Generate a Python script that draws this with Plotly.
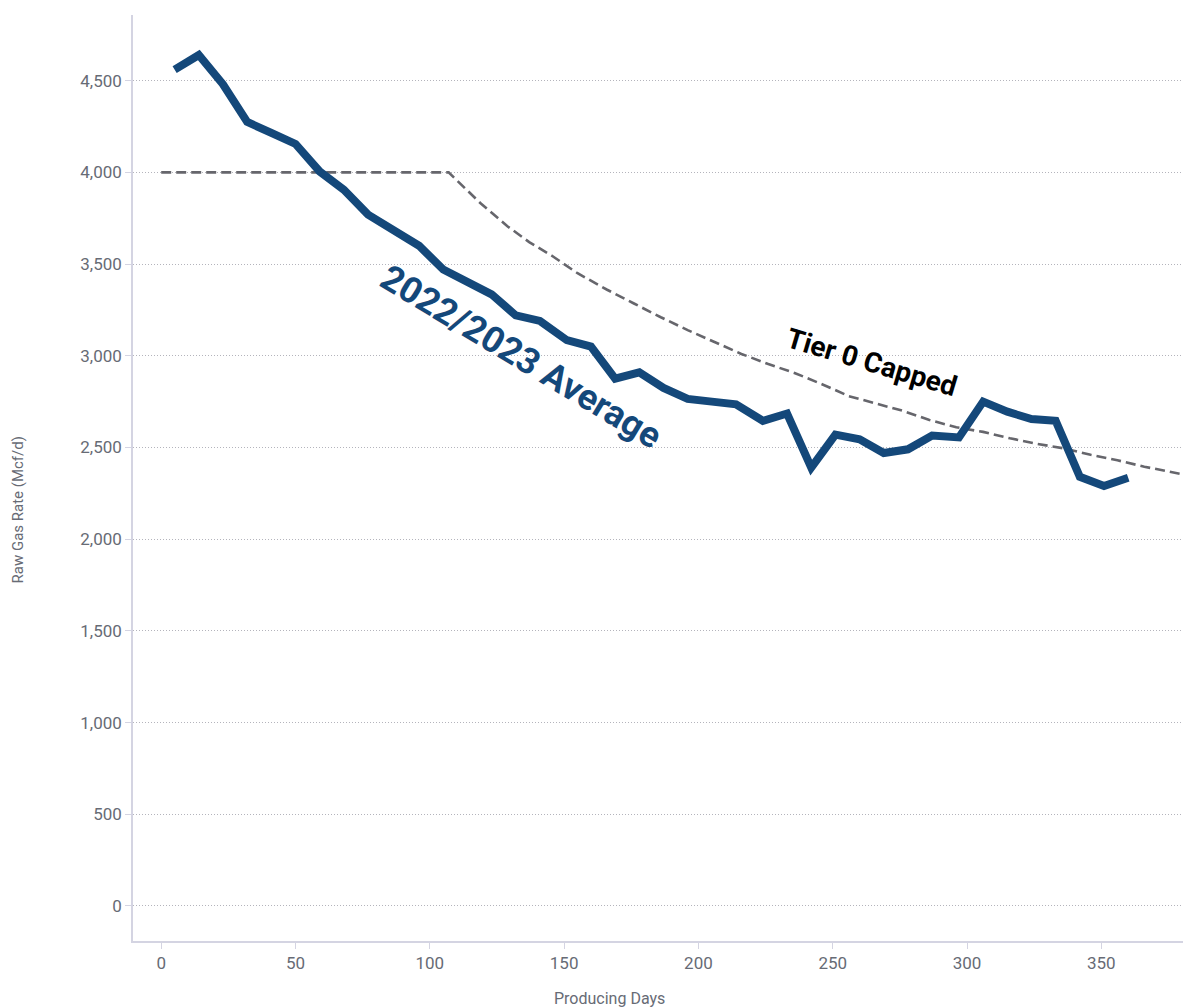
import plotly.graph_objects as go

# 2022/2023 average raw gas rate
avg_days = [5, 14, 23, 32, 41, 50, 59, 68, 77, 86, 96, 105, 114, 123, 132, 141, 151, 160,
            169, 178, 187, 196, 205, 214, 224, 233, 242, 251, 260, 269, 278, 287, 297, 306,
            315, 324, 333, 342, 351, 360]
avg_rate = [4560, 4640, 4480, 4275, 4215, 4155, 4005, 3905, 3770, 3690, 3600, 3470, 3400, 3335,
            3220, 3190, 3085, 3050, 2875, 2910, 2825, 2765, 2750, 2735, 2645, 2685, 2390, 2570,
            2545, 2470, 2490, 2565, 2555, 2750, 2695, 2655, 2645, 2340, 2290, 2335]

# Tier 0 capped type curve
cap_days = [0, 107, 119, 129, 137, 146, 155, 166, 176, 186, 196, 206, 216, 226, 236, 246, 256,
            266, 276, 286, 296, 306, 316, 326, 336, 346, 356, 366, 376, 385]
cap_rate = [4000, 4000, 3830, 3705, 3620, 3540, 3450, 3360, 3285, 3210, 3140, 3075, 3010, 2955,
            2905, 2845, 2780, 2740, 2700, 2650, 2610, 2585, 2550, 2520, 2495, 2460, 2430, 2395,
            2365, 2340]

y_ticks = [0, 500, 1000, 1500, 2000, 2500, 3000, 3500, 4000, 4500]
x_ticks = [0, 50, 100, 150, 200, 250, 300, 350]

blue = '#14487a'
grey_txt = '#676b75'
axis_col = '#d4d4e2'

fig = go.Figure()

fig.add_scatter(x=cap_days, y=cap_rate, mode='lines', name='Tier 0 Capped',
                line=dict(color='#66666c', width=2.6, dash='10px,5px'))
fig.add_scatter(x=avg_days, y=avg_rate, mode='lines', name='2022/2023 Average',
                line=dict(color=blue, width=8))

fig.add_annotation(x=134, y=2993, xref='x', yref='y', text='<b>2022/2023 Average</b>',
                   showarrow=False, textangle=31,
                   font=dict(family='Roboto', size=36, color=blue))
fig.add_annotation(x=264.7, y=2966, xref='x', yref='y', text='<b>Tier 0 Capped</b>',
                   showarrow=False, textangle=16.5,
                   font=dict(family='Roboto', size=28, color='black'))

# axis titles
fig.add_annotation(x=-0.1095, y=0.465, xref='paper', yref='paper', text='Raw Gas Rate (Mcf/d)',
                   showarrow=False, textangle=-90, xanchor='center', yanchor='middle',
                   font=dict(family='Roboto', size=15, color=grey_txt))
fig.add_annotation(x=0.454, y=-0.0626, xref='paper', yref='paper', text='Producing Days',
                   showarrow=False, xanchor='center', yanchor='middle',
                   font=dict(family='Roboto', size=16, color=grey_txt))

fig.update_xaxes(range=[-10.5, 380.4], tickvals=x_ticks, showgrid=False, zeroline=False,
                 showline=True, linecolor=axis_col, linewidth=1.5,
                 ticks='outside', ticklen=6, tickcolor=axis_col,
                 tickfont=dict(family='Roboto', size=17, color=grey_txt))
fig.update_yaxes(range=[-191, 4858], tickvals=y_ticks, tickformat=',d',
                 showgrid=True, gridcolor='#b4b4bc', griddash='1px,2px', gridwidth=1,
                 zeroline=False, showline=True, linecolor=axis_col, linewidth=1.5,
                 ticks='outside', ticklen=6, tickcolor=axis_col,
                 tickfont=dict(family='Roboto', size=17, color=grey_txt))

fig.update_layout(width=1191, height=1008, showlegend=False,
                  margin=dict(l=133, r=8, t=15, b=67),
                  plot_bgcolor='white', paper_bgcolor='white',
                  font=dict(family='Roboto'))

fig.write_html("out.html", config={'displayModeBar': False},
               post_script="document.body.style.margin='0';")
